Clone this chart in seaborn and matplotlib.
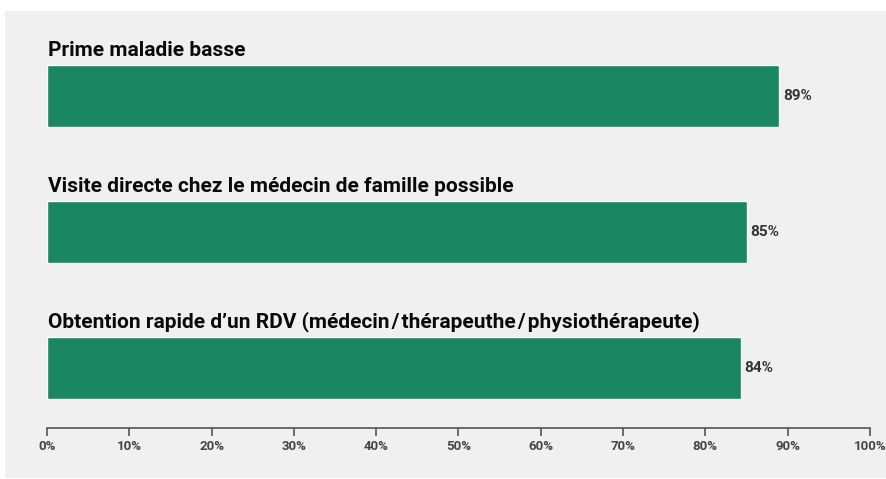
import pandas as pd
import matplotlib.pyplot as plt
import matplotlib.patches as mpatches
import seaborn as sns

# Chart data
categories = [
    "Prime maladie basse",
    "Visite directe chez le médecin de famille possible",
    "Obtention rapide d\u2019un RDV (médecin\u200a/\u200athérapeuthe\u200a/\u200aphysiothérapeute)",
]
values = [89, 85, 84.3]
ticks = [0, 10, 20, 30, 40, 50, 60, 70, 80, 90, 100]
tick_labels = [f"{t}%" for t in ticks]

df = pd.DataFrame({"label": categories, "value": values})

sns.set_style("white")
plt.rcParams['font.family'] = ['Roboto', 'DejaVu Sans']

bar_color = "#1b8760"
bg = "#f0f0f0"

fig = plt.figure(figsize=(8.86, 4.79), dpi=100, facecolor="white")
# grey panel behind the chart
fig.patches.append(mpatches.Rectangle((5 / 886, 1 / 479), 881 / 886, 467 / 479,
                                      transform=fig.transFigure, facecolor=bg,
                                      edgecolor="none", zorder=-10))

ax = fig.add_axes([47 / 886, 1 - 428 / 479, (870 - 47) / 886, (428 - 40) / 479])
ax.set_facecolor("none")

sns.barplot(data=df, x="value", y="label", orient="h", color=bar_color,
            width=0.46, saturation=1, ax=ax)

ax.set_xlim(0, 100)
ax.set_ylim(2.44, -0.41)
ax.set_yticks([])
ax.set_ylabel("")
ax.set_xlabel("")

ax.set_xticks(ticks)
ax.set_xticklabels(tick_labels, fontsize=9.5, fontweight="bold", color="#444444")
ax.tick_params(axis="x", bottom=True, direction="out", length=6, width=1.2,
               color="#555555", pad=3)

for s in ["top", "right", "left"]:
    ax.spines[s].set_visible(False)
ax.spines["bottom"].set_color("#555555")
ax.spines["bottom"].set_linewidth(1.2)

for i, (lab, val) in enumerate(zip(categories, values)):
    ax.text(0.1, i - 0.296, lab, ha="left", va="baseline", fontsize=15,
            fontweight="bold", color="#0a0a0a")
    ax.text(val + 0.4, i, f"{round(val)}%", ha="left", va="center", fontsize=11,
            fontweight="bold", color="#333333")

plt.savefig("out.png", dpi=100, facecolor="white")
